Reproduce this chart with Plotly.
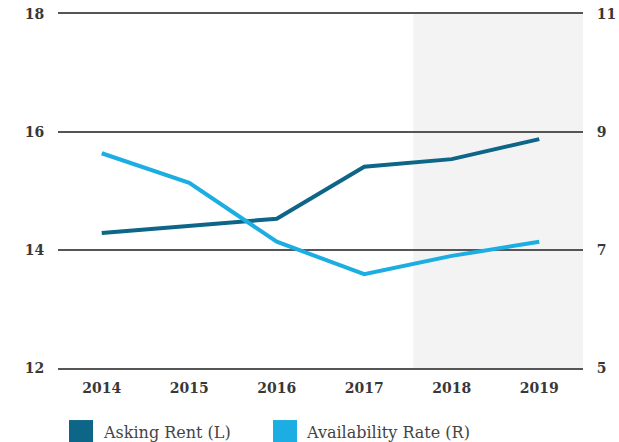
import plotly.graph_objects as go

years = ["2014", "2015", "2016", "2017", "2018", "2019"]
asking_rent = [14.29, 14.41, 14.53, 15.41, 15.54, 15.88]
availability_rate = [8.64, 8.14, 7.14, 6.59, 6.90, 7.14]
series_names = ["Asking Rent (L)", "Availability Rate (R)"]
left_ticks = [12, 14, 16, 18]
right_ticks = [5, 7, 9, 11]

dark = "#0d6587"
light = "#1cade2"
font_family = "DejaVu Serif"
tick_font = dict(family=font_family, size=14, color="#383838", weight="bold")

fig = go.Figure()
fig.add_trace(go.Scatter(x=years, y=asking_rent, mode="lines", name=series_names[0],
                         line=dict(color=dark, width=4), yaxis="y", showlegend=False))
fig.add_trace(go.Scatter(x=years, y=availability_rate, mode="lines", name=series_names[1],
                         line=dict(color=light, width=4), yaxis="y2", showlegend=False))

# shaded forecast region
fig.add_shape(type="rect", xref="x", yref="paper", x0=3.56, x1=5.5, y0=0, y1=1,
              fillcolor="#f3f3f3", line=dict(width=0), layer="below")

# legend drawn manually
leg = [(0.021, 0.0667, 0.0819, dark, series_names[0]),
       (0.4095, 0.4552, 0.4686, light, series_names[1])]
for x0, x1, xt, col, name in leg:
    fig.add_shape(type="rect", xref="paper", yref="paper", x0=x0, x1=x1, y0=-0.22, y1=-0.147,
                  fillcolor=col, line=dict(width=0))
    fig.add_annotation(xref="paper", yref="paper", x=xt, y=-0.181, text=name, showarrow=False,
                       xanchor="left", yanchor="middle",
                       font=dict(family=font_family, size=16, color="#444"))

fig.update_layout(
    width=619, height=442,
    margin=dict(l=58, r=36, t=14, b=74, autoexpand=False),
    paper_bgcolor="white", plot_bgcolor="rgba(0,0,0,0)",
    showlegend=False,
    font=dict(family=font_family, size=14, color="#333"),
    xaxis=dict(type="category", range=[-0.5, 5.5], showgrid=False, zeroline=False,
               showline=True, mirror=True, linecolor="#555", linewidth=2,
               ticks="outside", ticklen=6, tickcolor="rgba(0,0,0,0)",
               automargin=False, tickfont=tick_font),
    yaxis=dict(range=[12, 18], tickvals=left_ticks, showgrid=True, gridcolor="#555",
               gridwidth=2, zeroline=False, showline=False, ticks="outside", ticklen=10,
               tickcolor="rgba(0,0,0,0)", layer="below traces", automargin=False,
               tickfont=tick_font),
    yaxis2=dict(range=[5, 11], tickvals=right_ticks, overlaying="y", side="right",
                showgrid=False, zeroline=False, showline=False, ticks="outside", ticklen=10,
                tickcolor="rgba(0,0,0,0)", automargin=False, tickfont=tick_font),
)

fig.write_html("out.html", config={"displayModeBar": False},
               post_script="document.body.style.margin='0';document.body.style.overflow='hidden';")
